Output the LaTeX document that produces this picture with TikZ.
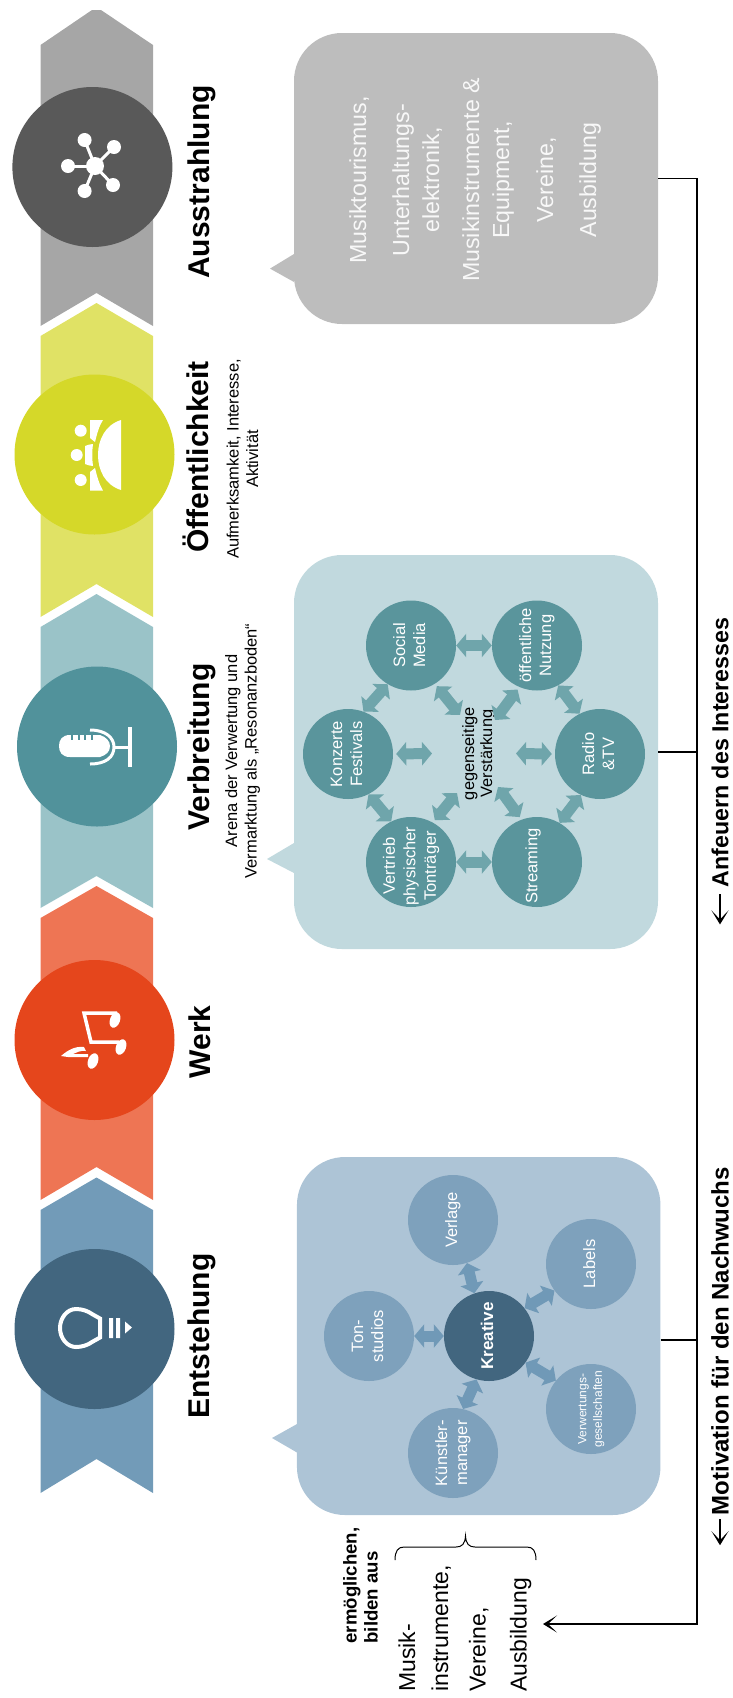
\documentclass[tikz,border=0pt]{standalone}
\usepackage{fontspec}
\setmainfont{Liberation Sans}
\usetikzlibrary{arrows.meta,shapes.geometric}
\newcommand\fs[2]{\fontsize{#1}{#2}\selectfont}
\newcommand\rl[1]{\rotatebox{90}{\begin{tabular}{@{}c@{}}#1\end{tabular}}}
\definecolor{gRib}{HTML}{A6A6A6}\definecolor{gCir}{HTML}{595959}\definecolor{gBub}{HTML}{BDBDBD}
\definecolor{yRib}{HTML}{E0E265}\definecolor{yCir}{HTML}{D5D829}
\definecolor{tRib}{HTML}{9AC3C8}\definecolor{tCir}{HTML}{51929B}\definecolor{tBub}{HTML}{C1D9DE}
\definecolor{tSm}{HTML}{5A959C}\definecolor{tArr}{HTML}{6FA5AB}
\definecolor{rRib}{HTML}{EE7554}\definecolor{rCir}{HTML}{E5461C}
\definecolor{bRib}{HTML}{729BB8}\definecolor{bCir}{HTML}{42667F}\definecolor{bBub}{HTML}{ADC4D6}
\definecolor{bSm}{HTML}{7EA1BC}\definecolor{bArr}{HTML}{7099B7}
\tikzset{
  stage/.style={circle,minimum size=160pt,inner sep=0pt},
  small/.style={circle,minimum size=90pt,inner sep=0pt,text=white,font=\fs{16.5}{20}},
  bubble/.style={rectangle,rounded corners=48pt,inner sep=0pt},
  head/.style={rotate=90,inner sep=0pt,font=\bfseries\fs{30}{34}},
  sub/.style={rotate=90,inner sep=0pt,align=center,font=\fs{16.5}{19.5}},
  dbl/.style={line width=11pt,{Triangle[length=10pt,width=23pt]}-{Triangle[length=10pt,width=23pt]}},
  trunk/.style={line width=1.5pt,black},
  barb/.style={-{Stealth[length=14pt,width=17pt,inset=9pt]}},
  ico/.style={fill=white,draw=none},
  icol/.style={draw=white,fill=none}
}
\begin{document}
\begin{tikzpicture}[x=1pt,y=-1pt]
\useasboundingbox (0,0) rectangle (733,1698);
% ribbons
\fill[gRib] (92,10) -- (101,10) -- (153,45) -- (153,326) -- (96.5,293) -- (40.5,326) -- (40.5,45) -- cycle;
\fill[yRib] (96.5,303) -- (153,336) -- (153,617) -- (96.5,584) -- (40.5,617) -- (40.5,336) -- cycle;
\fill[tRib] (96.5,594) -- (153,627) -- (153,908) -- (96.5,876) -- (40.5,908) -- (40.5,627) -- cycle;
\fill[rRib] (96.5,886) -- (153,918) -- (153,1200) -- (96.5,1167) -- (40.5,1200) -- (40.5,918) -- cycle;
\fill[bRib] (96.5,1177.5) -- (153,1210) -- (153,1493) -- (96.5,1459) -- (40.5,1493) -- (40.5,1210) -- cycle;
% stage circles
\node[stage,fill=gCir] (sAus) at (92.4,167) {};
\node[stage,fill=yCir] (sOef) at (94.5,454.5) {};
\node[stage,fill=tCir] (sVer) at (97,746.5) {};
\node[stage,fill=rCir] (sWer) at (94.5,1040) {};
\node[stage,fill=bCir] (sEnt) at (94.5,1329) {};
% hub icon
\foreach \p in {(84.6,140),(114,147),(68,166),(84.6,191),(113,185)}{
  \draw[icol,line width=3pt] (95,166) -- \p;
  \fill[white] \p circle (7);
}
\fill[white] (95,166) circle (9);
% audience icon
\fill[white] (121,420) .. controls (105,425) and (98,440) .. (98,455) .. controls (98,470) and (105,485) .. (121,490) -- cycle;
\fill[white] (90,420) -- (103,420) .. controls (99,426) and (97,434) .. (95,442) -- (90,438) -- cycle;
\fill[white] (85,446) .. controls (88,445) and (90,444) .. (93,444) .. controls (92,451) and (92,459) .. (93,466) .. controls (90,466) and (88,465) .. (85,464) -- cycle;
\fill[white] (90,472) -- (95,468) .. controls (97,476) and (99,484) .. (103,490.5) -- (90,490.5) -- cycle;
\fill[white] (80.7,430.7) circle (6) (76.7,455) circle (6) (80.7,480) circle (6);
% microphone icon
\fill[white] (70,735) -- (100,735) .. controls (106,737) and (110,741) .. (110,746) .. controls (110,752) and (106,755) .. (100,757) -- (70,757) .. controls (62,757) and (59,752) .. (59,746) .. controls (59,740) and (62,735) .. (70,735) -- cycle;
\foreach \x in {72,79,85,92}{\draw[tCir,line width=1.5pt] (\x,734.5) -- (\x,740);}
\draw[icol,line width=3pt] (90,730) .. controls (106,730) and (114,738) .. (114,747) .. controls (114,757) and (106,764) .. (90,764);
\draw[icol,line width=3pt] (114,747) -- (130,747);
\draw[icol,line width=4pt] (130,727) -- (130,767);
% notes icon
\draw[icol,line width=3.5pt] (117,1013) -- (84,1013) -- (91,1042) -- (119,1042);
\fill[white,rotate around={-20:(115,1020)}] (115,1020) ellipse (5 and 8);
\fill[white,rotate around={-20:(121,1047)}] (121,1047) ellipse (5 and 8);
\fill[white] (61,1056) .. controls (68,1050) and (75,1046) .. (84,1047) -- (86,1051) .. controls (80,1050) and (76,1053) .. (73,1054) -- (88,1054) -- (88,1057) -- (68,1057) -- cycle;
\fill[white,rotate around={-20:(93,1061)}] (93,1061) ellipse (5 and 8);
% bulb icon
\draw[icol,line width=4pt] (100,1318.5) -- (92,1314) .. controls (88,1311) and (82,1309) .. (76,1309) .. controls (67,1309) and (60,1318) .. (60,1328) .. controls (60,1338) and (67,1347) .. (76,1347) .. controls (82,1347) and (88,1345) .. (92,1342) -- (100,1337.5) -- cycle;
\fill[white] (109,1318) rectangle (113,1338) (116,1318) rectangle (120,1338);
\fill[white] (125,1321.5) -- (132,1327.5) -- (125,1333.5) -- cycle;
% stage titles
\node[head] (tAus) at (202,182) {Ausstrahlung};
\node[head] (tOef) at (196,457) {Öffentlichkeit};
\node[sub] (dOef) at (242.5,459) {Aufmerksamkeit, Interesse,\\Aktivität};
\node[head] (tVer) at (202,747) {Verbreitung};
\node[sub] (dVer) at (242.5,751) {Arena der Verwertung und\\Vermarktung als „Resonanzboden“};
\node[head] (tWer) at (200,1042) {Werk};
\node[head] (tEnt) at (202,1336) {Entstehung};
% speech bubbles
\fill[gBub] (294,254) -- (270,268.6) -- (294,282) -- cycle;
\node[bubble,fill=gBub,minimum width=364pt,minimum height=291pt] (bG) at (476,178.5) {};
\fill[tBub] (294,843) -- (267,859) -- (294,873) -- cycle;
\node[bubble,fill=tBub,minimum width=364pt,minimum height=394pt] (bT) at (476,752) {};
\fill[bBub] (297,1424) -- (272,1438) -- (297,1452.5) -- cycle;
\node[bubble,fill=bBub,minimum width=363.5pt,minimum height=358pt] (bB) at (478.7,1336) {};
% grey text
\node[rotate=90,inner sep=0pt,align=center,text=white!90!gBub,font=\fs{23.2}{30}] (gTxt) at (475,180)
 {Musiktourismus,\\[13pt]Unterhaltungs-\\elektronik,\\[10pt]Musikinstrumente \&\\Equipment,\\[14pt]Vereine,\\[13pt]Ausbildung};
% teal cluster
\node[small,fill=tSm] (social) at (411,645.5) {\rl{Social\\Media}};
\node[small,fill=tSm] (oeff) at (537,645.5) {\rl{öffentliche\\Nutzung}};
\node[small,fill=tSm] (konz) at (348,754) {\rl{Konzerte\\Festivals}};
\node[small,fill=tSm] (radio) at (600,754) {\rl{Radio\\\&TV}};
\node[small,fill=tSm] (vert) at (411,862) {};
\node[small,fill=tSm] (stream) at (537,862) {};
\node[rotate=90,inner sep=0pt,align=center,text=white,font=\fs{16.5}{20.5}] (vertT) at (411,866) {Vertrieb\\physischer\\Tonträger};
\node[rotate=90,inner sep=0pt,align=center,text=white,font=\fs{16.5}{20.5}] (streamT) at (533,866) {Streaming};
\node[rotate=90,inner sep=0pt,align=center,font=\fs{16.4}{18}] (gv) at (479,753.5) {gegenseitige\\Verstärkung};
\coordinate (gS) at (460,715);
\coordinate (gO) at (495,720);
\coordinate (gV) at (457,793);
\coordinate (gT) at (498,787);
\coordinate (gK) at (432,753.5);
\coordinate (gR) at (516,753.5);
\begin{scope}[tArr]
\draw[dbl] (social) -- (oeff);
\draw[dbl] (vert) -- (stream);
\draw[dbl] (social.239) -- (konz.70);
\draw[dbl] (konz.297) -- (vert.116);
\draw[dbl] (oeff.298) -- (radio.117);
\draw[dbl] (radio.245) -- (stream.60);
\draw[dbl,shorten <=3pt] (social.302) -- (gS);
\draw[dbl,shorten <=3pt] (oeff.247) -- (gO);
\draw[dbl,shorten <=3pt] (vert.61) -- (gV);
\draw[dbl,shorten <=3pt] (stream.110) -- (gT);
\draw[dbl,shorten <=3pt] (konz.east) -- (gK);
\draw[dbl,shorten <=3pt] (radio.west) -- (gR);
\end{scope}
% blue cluster
\node[small,fill=bSm] (verlage) at (453,1220) {\rl{Verlage}};
\node[small,fill=bSm] (labels) at (591,1264) {\rl{Labels}};
\node[small,fill=bSm] (ton) at (369,1336) {\rl{Ton-\\studios}};
\node[small,fill=bCir,font=\bfseries\fs{17}{20}] (krea) at (489,1336) {\rl{Kreative}};
\node[small,fill=bSm,font=\fs{12}{15.5}] (verw) at (591,1409) {\rl{Verwertungs-\\gesellschaften}};
\node[small,fill=bSm] (kuen) at (453,1453) {\rl{Künstler-\\manager}};
\begin{scope}[bArr]
\draw[dbl] (ton) -- (krea);
\draw[dbl] (verlage.288) -- (krea.109);
\draw[dbl] (labels.216) -- (krea.38);
\draw[dbl] (verw.141) -- (krea.324);
\draw[dbl] (kuen.77) -- (krea.254);
\end{scope}
% bottom-left list
\node[rotate=90,anchor=west,inner sep=0pt,align=left,font=\bfseries\fs{18.6}{21}] (erm) at (360.5,1643.6) {ermöglichen,\\bilden aus};
\draw[line width=1pt] (395,1560) .. controls (395,1551) and (398,1547) .. (404,1547) -- (456,1547) .. controls (462,1547) and (465,1544) .. (465.5,1536) .. controls (466,1544) and (469,1547) .. (475,1547) -- (527,1547) .. controls (533,1547) and (536,1551) .. (536,1560);
\node[rotate=90,anchor=west,inner sep=0pt,align=left,font=\fs{23}{33}] (inst) at (465,1692) {Musik-\\instrumente,\\[4.5pt]Vereine,\\[8pt]Ausbildung};
% feedback lines
\coordinate (tk) at (697,1624);
\coordinate (inTip) at (543,1624);
\draw[trunk,barb] (bG.east) -| (tk) -- (inTip);
\draw[trunk] (bT.east) -- (bT.east -| tk);
\draw[trunk] ([yshift=-4pt]bB.east) -- ([yshift=-4pt]bB.east -| tk);
% bottom labels
\node[rotate=90,inner sep=0pt,font=\bfseries\fs{24}{28}] (mot) at (720,1341) {Motivation für den Nachwuchs};
\node[rotate=90,inner sep=0pt,font=\bfseries\fs{23.2}{28}] (anf) at (720,752.5) {Anfeuern des Interesses};
\draw[line width=1.5pt,barb] ([yshift=-4pt]mot.west) -- ++(0,26);
\draw[line width=1.5pt,barb] ([yshift=-7pt]anf.west) -- ++(0,30);
\end{tikzpicture}
\end{document}
